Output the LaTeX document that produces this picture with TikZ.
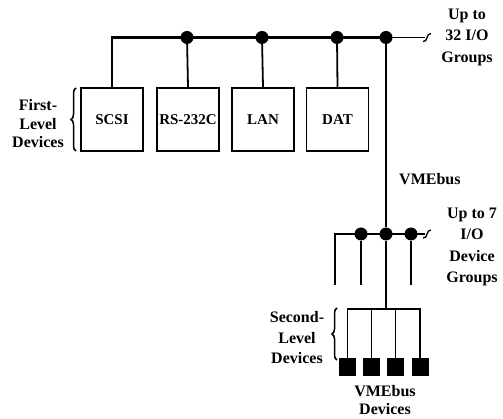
\documentclass[tikz,border=0pt]{standalone}
\usepackage{fontspec}
\setmainfont{Liberation Serif}
\usetikzlibrary{decorations.pathreplacing}
\begin{document}
\begin{tikzpicture}[x=1pt,y=-1pt,
  bus/.style={line width=2.3pt},
  link/.style={line width=1.8pt},
  devbox/.style={draw, line width=1.3pt, minimum width=62pt, minimum height=63pt, inner sep=0pt, font=\bfseries\fontsize{15}{17}\selectfont},
  jdot/.style={circle, fill, inner sep=0pt, minimum size=13pt},
  vdev/.style={fill, minimum width=17pt, minimum height=18pt, inner sep=0pt},
  lbl/.style={align=center, inner sep=0pt, font=\bfseries\fontsize{16}{21.5}\selectfont},
  brk/.style={line width=1.3pt},
  curly/.style={decorate, decoration={brace, amplitude=5pt}, line width=1.5pt}]
\useasboundingbox (0,0) rectangle (503,419);
% first-level devices
\node[devbox] (scsi) at (112,119.5) {SCSI};
\node[devbox] (rs)   at (188,119.5) {RS-232C};
\node[devbox] (lan)  at (263,119.5) {LAN};
\node[devbox] (dat)  at (337.5,119.5) {DAT};
% top bus
\coordinate (tl) at (112,37.5);
\node[jdot] (d1) at (187,37.5) {};
\node[jdot] (d2) at (262,37.5) {};
\node[jdot] (d3) at (337,37.5) {};
\node[jdot] (d4) at (386,37.5) {};
\coordinate (tr) at (425,37.5);
\draw[bus] (scsi.north) |- (tl) -- (d1.center) -- (d2.center) -- (d3.center) -- (d4.center);
\draw[line width=1.8pt] (d4.center) -- (tr);
\draw[brk] (423,41.5) .. controls (428,42.5) and (426,33) .. (431,33.5);
\draw[link] (d1) -- (rs.north);
\draw[link] (d2) -- (lan.north);
\draw[link] (d3) -- (dat.north);
% VMEbus
\node[jdot] (e1) at (361,234) {};
\node[jdot] (e2) at (386,234) {};
\node[jdot] (e3) at (411,234) {};
\draw[bus] (d4) -- (e2);
\coordinate (bl) at (335,234);
\coordinate (br) at (425,234);
\coordinate (s0) at (335,285);
\coordinate (s1) at (361,285);
\coordinate (s3) at (411,285);
\draw[bus] (s0) -- (bl) -- (e1.center) -- (e2.center) -- (e3.center) -- (br);
\draw[brk] (423,238) .. controls (428,239) and (426,229.5) .. (431,230);
\draw[link] (e1) -- (s1);
\draw[link] (e3) -- (s3);
% second-level devices
\coordinate (hub) at (386,309);
\node[vdev] (v1) at (347.5,367) {};
\node[vdev] (v2) at (371.5,367) {};
\node[vdev] (v3) at (395.5,367) {};
\node[vdev] (v4) at (420,367) {};
\draw[link] (e2) -- (hub);
\draw[link] (v1.north) |- (hub) -| (v4.north);
\draw[link] (v2.north) -- (v2.north |- hub);
\draw[link] (v3.north) -- (v3.north |- hub);
% labels
\node[lbl] (g32) at (467,37) {Up to\\32 I/O\\Groups};
\node[lbl] (g7) at (472,247) {Up to 7\\I/O\\Device\\Groups};
\node[lbl] (vme) [anchor=west] at (399,179) {VMEbus};
\node[lbl, font=\bfseries\fontsize{16}{18.5}\selectfont] (fl) at (38,124) {First-\\Level\\Devices};
\node[lbl, font=\bfseries\fontsize{16}{20.5}\selectfont] (sl) at (297,338) {Second-\\Level\\Devices};
\node[lbl, font=\bfseries\fontsize{16}{18.5}\selectfont] (vd) at (385,400) {VMEbus\\Devices};
% braces
\draw[curly] (76,151) -- (76,88);
\draw[curly] (337,360) -- (337,308);
\end{tikzpicture}
\end{document}
